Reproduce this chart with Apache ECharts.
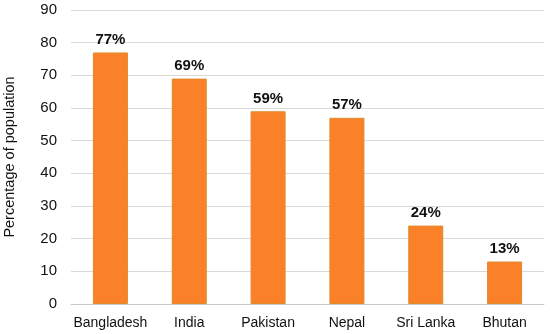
<!DOCTYPE html>
<html><head><meta charset="utf-8">
<script src="https://cdn.jsdelivr.net/npm/echarts@6/dist/echarts.min.js"></script>
<style>html,body{margin:0;padding:0;background:#fff}#c{width:550px;height:334px}</style>
</head><body><div id="c"></div>
<script>
const categories = ['Bangladesh','India','Pakistan','Nepal','Sri Lanka','Bhutan'];
const values = [77,69,59,57,24,13];
const yTicks = {min:0,max:90,interval:10};
const chart = echarts.init(document.getElementById('c'),null,{renderer:'canvas'});
chart.setOption({
  animation:false,
  grid:{left:71,right:6,top:10,bottom:30,outerBoundsMode:'none',containLabel:false},
  xAxis:{type:'category',data:categories,
    axisLine:{lineStyle:{color:'#c8c8c8',width:1}},axisTick:{show:false},
    axisLabel:{interval:0,color:'#111',fontSize:14,fontFamily:'Liberation Sans, Arial',margin:12}},
  yAxis:{type:'value',min:yTicks.min,max:yTicks.max,interval:yTicks.interval,
    name:'Percentage of population',nameLocation:'middle',nameGap:54,
    nameTextStyle:{color:'#111',fontSize:14.5,fontFamily:'Liberation Sans, Arial'},
    axisLine:{show:false},axisTick:{show:false},
    splitLine:{lineStyle:{color:'#d9d9d9',width:1}},
    axisLabel:{color:'#111',fontSize:15,fontFamily:'Liberation Sans, Arial',margin:14}},
  series:[{type:'bar',data:values,barWidth:35,
    itemStyle:{color:'#FA8128',borderColor:'#E08A2A',borderWidth:1},
    label:{show:true,position:'top',formatter:'{c}%',color:'#111',fontWeight:'bold',fontSize:15,fontFamily:'Liberation Sans, Arial',distance:5}}]
});
</script></body></html>
